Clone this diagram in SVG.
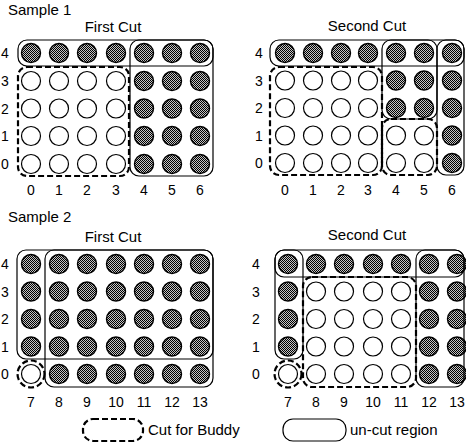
<svg xmlns="http://www.w3.org/2000/svg" width="466" height="443" viewBox="0 0 466 443">
<defs>
<pattern id="dots" patternUnits="userSpaceOnUse" width="2" height="2">
<rect width="2" height="2" fill="#c4c4c4"/>
<rect x="0" y="0" width="1" height="1" fill="#000"/>
<rect x="1" y="1" width="1" height="1" fill="#000"/>
</pattern>
</defs>
<style>
text{font-family:"Liberation Sans",Arial,sans-serif;font-size:15px;fill:#000}
.lab{text-anchor:middle;font-size:14px}
.ttl{text-anchor:middle}
.f{fill:url(#dots);stroke:#000;stroke-width:1.4}
.e{fill:#fff;stroke:#000;stroke-width:1.2}
.box{fill:none;stroke:#000;stroke-width:1.2}
.cut{fill:none;stroke:#000;stroke-width:2.2;stroke-dasharray:6 3}
</style>
<rect width="466" height="443" fill="#fff"/>

<text x="8" y="15">Sample 1</text>
<text x="8" y="222">Sample 2</text>

<g id="s1-first">
<text class="ttl" x="113" y="32">First Cut</text>
<g class="rows">
<text class="lab" x="5" y="58">4</text><text class="lab" x="5" y="86">3</text><text class="lab" x="5" y="114">2</text><text class="lab" x="5" y="141">1</text><text class="lab" x="5" y="169">0</text>
</g>
<g class="cols">
<text class="lab" x="31" y="195">0</text><text class="lab" x="59" y="195">1</text><text class="lab" x="87" y="195">2</text><text class="lab" x="116" y="195">3</text><text class="lab" x="144" y="195">4</text><text class="lab" x="172" y="195">5</text><text class="lab" x="200" y="195">6</text>
</g>
<g>
<circle class="f" cx="31" cy="53" r="9.5"/><circle class="f" cx="59" cy="53" r="9.5"/><circle class="f" cx="87" cy="53" r="9.5"/><circle class="f" cx="116" cy="53" r="9.5"/><circle class="f" cx="144" cy="53" r="9.5"/><circle class="f" cx="172" cy="53" r="9.5"/><circle class="f" cx="200" cy="53" r="9.5"/>
<circle class="e" cx="31" cy="81" r="9.5"/><circle class="e" cx="59" cy="81" r="9.5"/><circle class="e" cx="87" cy="81" r="9.5"/><circle class="e" cx="116" cy="81" r="9.5"/><circle class="f" cx="144" cy="81" r="9.5"/><circle class="f" cx="172" cy="81" r="9.5"/><circle class="f" cx="200" cy="81" r="9.5"/>
<circle class="e" cx="31" cy="108.5" r="9.5"/><circle class="e" cx="59" cy="108.5" r="9.5"/><circle class="e" cx="87" cy="108.5" r="9.5"/><circle class="e" cx="116" cy="108.5" r="9.5"/><circle class="f" cx="144" cy="108.5" r="9.5"/><circle class="f" cx="172" cy="108.5" r="9.5"/><circle class="f" cx="200" cy="108.5" r="9.5"/>
<circle class="e" cx="31" cy="136" r="9.5"/><circle class="e" cx="59" cy="136" r="9.5"/><circle class="e" cx="87" cy="136" r="9.5"/><circle class="e" cx="116" cy="136" r="9.5"/><circle class="f" cx="144" cy="136" r="9.5"/><circle class="f" cx="172" cy="136" r="9.5"/><circle class="f" cx="200" cy="136" r="9.5"/>
<circle class="e" cx="31" cy="164" r="9.5"/><circle class="e" cx="59" cy="164" r="9.5"/><circle class="e" cx="87" cy="164" r="9.5"/><circle class="e" cx="116" cy="164" r="9.5"/><circle class="f" cx="144" cy="164" r="9.5"/><circle class="f" cx="172" cy="164" r="9.5"/><circle class="f" cx="200" cy="164" r="9.5"/>
</g>
<rect class="box" x="18" y="40" width="195" height="26" rx="9"/>
<rect class="box" x="130" y="40" width="83" height="136" rx="9"/>
<rect class="cut" x="18" y="67" width="111" height="109" rx="9"/>
</g>

<g id="s1-second">
<text class="ttl" x="367" y="31">Second Cut</text>
<g class="rows">
<text class="lab" x="259" y="58">4</text><text class="lab" x="259" y="86">3</text><text class="lab" x="259" y="113">2</text><text class="lab" x="259" y="141">1</text><text class="lab" x="259" y="168">0</text>
</g>
<g class="cols">
<text class="lab" x="285" y="195">0</text><text class="lab" x="313" y="195">1</text><text class="lab" x="341" y="195">2</text><text class="lab" x="368" y="195">3</text><text class="lab" x="396" y="195">4</text><text class="lab" x="424" y="195">5</text><text class="lab" x="452" y="195">6</text>
</g>
<g>
<circle class="f" cx="285" cy="53" r="9.5"/><circle class="f" cx="313" cy="53" r="9.5"/><circle class="f" cx="341" cy="53" r="9.5"/><circle class="f" cx="368" cy="53" r="9.5"/><circle class="f" cx="396" cy="53" r="9.5"/><circle class="f" cx="424" cy="53" r="9.5"/><circle class="f" cx="452" cy="53" r="9.5"/>
<circle class="e" cx="285" cy="80.5" r="9.5"/><circle class="e" cx="313" cy="80.5" r="9.5"/><circle class="e" cx="341" cy="80.5" r="9.5"/><circle class="e" cx="368" cy="80.5" r="9.5"/><circle class="f" cx="396" cy="80.5" r="9.5"/><circle class="f" cx="424" cy="80.5" r="9.5"/><circle class="f" cx="452" cy="80.5" r="9.5"/>
<circle class="e" cx="285" cy="108" r="9.5"/><circle class="e" cx="313" cy="108" r="9.5"/><circle class="e" cx="341" cy="108" r="9.5"/><circle class="e" cx="368" cy="108" r="9.5"/><circle class="f" cx="396" cy="108" r="9.5"/><circle class="f" cx="424" cy="108" r="9.5"/><circle class="f" cx="452" cy="108" r="9.5"/>
<circle class="e" cx="285" cy="135.5" r="9.5"/><circle class="e" cx="313" cy="135.5" r="9.5"/><circle class="e" cx="341" cy="135.5" r="9.5"/><circle class="e" cx="368" cy="135.5" r="9.5"/><circle class="e" cx="396" cy="135.5" r="9.5"/><circle class="e" cx="424" cy="135.5" r="9.5"/><circle class="f" cx="452" cy="135.5" r="9.5"/>
<circle class="e" cx="285" cy="163" r="9.5"/><circle class="e" cx="313" cy="163" r="9.5"/><circle class="e" cx="341" cy="163" r="9.5"/><circle class="e" cx="368" cy="163" r="9.5"/><circle class="e" cx="396" cy="163" r="9.5"/><circle class="e" cx="424" cy="163" r="9.5"/><circle class="f" cx="452" cy="163" r="9.5"/>
</g>
<rect class="box" x="270" y="40" width="194" height="26" rx="9"/>
<rect class="box" x="382" y="40" width="55" height="79" rx="9"/>
<rect class="box" x="437" y="40" width="27" height="135" rx="9"/>
<rect class="cut" x="270" y="67" width="112" height="108" rx="9"/>
<rect class="cut" x="382" y="119" width="55" height="56" rx="9"/>
</g>

<g id="s2-first">
<text class="ttl" x="113" y="242">First Cut</text>
<g class="rows">
<text class="lab" x="5" y="269">4</text><text class="lab" x="5" y="297">3</text><text class="lab" x="5" y="324">2</text><text class="lab" x="5" y="352">1</text><text class="lab" x="5" y="379">0</text>
</g>
<g class="cols">
<text class="lab" x="31" y="407">7</text><text class="lab" x="59" y="407">8</text><text class="lab" x="87" y="407">9</text><text class="lab" x="116" y="407">10</text><text class="lab" x="144" y="407">11</text><text class="lab" x="172" y="407">12</text><text class="lab" x="200" y="407">13</text>
</g>
<g>
<circle class="f" cx="31" cy="264" r="9.5"/><circle class="f" cx="59" cy="264" r="9.5"/><circle class="f" cx="87" cy="264" r="9.5"/><circle class="f" cx="116" cy="264" r="9.5"/><circle class="f" cx="144" cy="264" r="9.5"/><circle class="f" cx="172" cy="264" r="9.5"/><circle class="f" cx="200" cy="264" r="9.5"/>
<circle class="f" cx="31" cy="291.5" r="9.5"/><circle class="f" cx="59" cy="291.5" r="9.5"/><circle class="f" cx="87" cy="291.5" r="9.5"/><circle class="f" cx="116" cy="291.5" r="9.5"/><circle class="f" cx="144" cy="291.5" r="9.5"/><circle class="f" cx="172" cy="291.5" r="9.5"/><circle class="f" cx="200" cy="291.5" r="9.5"/>
<circle class="f" cx="31" cy="319" r="9.5"/><circle class="f" cx="59" cy="319" r="9.5"/><circle class="f" cx="87" cy="319" r="9.5"/><circle class="f" cx="116" cy="319" r="9.5"/><circle class="f" cx="144" cy="319" r="9.5"/><circle class="f" cx="172" cy="319" r="9.5"/><circle class="f" cx="200" cy="319" r="9.5"/>
<circle class="f" cx="31" cy="346.5" r="9.5"/><circle class="f" cx="59" cy="346.5" r="9.5"/><circle class="f" cx="87" cy="346.5" r="9.5"/><circle class="f" cx="116" cy="346.5" r="9.5"/><circle class="f" cx="144" cy="346.5" r="9.5"/><circle class="f" cx="172" cy="346.5" r="9.5"/><circle class="f" cx="200" cy="346.5" r="9.5"/>
<circle class="e" cx="31" cy="374" r="9.5"/><circle class="f" cx="59" cy="374" r="9.5"/><circle class="f" cx="87" cy="374" r="9.5"/><circle class="f" cx="116" cy="374" r="9.5"/><circle class="f" cx="144" cy="374" r="9.5"/><circle class="f" cx="172" cy="374" r="9.5"/><circle class="f" cx="200" cy="374" r="9.5"/>
</g>
<rect class="box" x="17" y="250" width="196" height="109" rx="9"/>
<rect class="box" x="45" y="250" width="168" height="137" rx="9"/>
<circle class="cut" cx="31" cy="374" r="13.5"/>
</g>

<g id="s2-second">
<text class="ttl" x="367" y="240">Second Cut</text>
<g class="rows">
<text class="lab" x="256" y="269">4</text><text class="lab" x="256" y="297">3</text><text class="lab" x="256" y="324">2</text><text class="lab" x="256" y="352">1</text><text class="lab" x="256" y="379">0</text>
</g>
<g class="cols">
<text class="lab" x="288" y="407">7</text><text class="lab" x="316" y="407">8</text><text class="lab" x="344" y="407">9</text><text class="lab" x="373" y="407">10</text><text class="lab" x="401" y="407">11</text><text class="lab" x="429" y="407">12</text><text class="lab" x="457" y="407">13</text>
</g>
<g>
<circle class="f" cx="288" cy="264" r="9.5"/><circle class="f" cx="316" cy="264" r="9.5"/><circle class="f" cx="344" cy="264" r="9.5"/><circle class="f" cx="373" cy="264" r="9.5"/><circle class="f" cx="401" cy="264" r="9.5"/><circle class="f" cx="429" cy="264" r="9.5"/><circle class="f" cx="457" cy="264" r="9.5"/>
<circle class="f" cx="288" cy="291.5" r="9.5"/><circle class="e" cx="316" cy="291.5" r="9.5"/><circle class="e" cx="344" cy="291.5" r="9.5"/><circle class="e" cx="373" cy="291.5" r="9.5"/><circle class="e" cx="401" cy="291.5" r="9.5"/><circle class="f" cx="429" cy="291.5" r="9.5"/><circle class="f" cx="457" cy="291.5" r="9.5"/>
<circle class="f" cx="288" cy="319" r="9.5"/><circle class="e" cx="316" cy="319" r="9.5"/><circle class="e" cx="344" cy="319" r="9.5"/><circle class="e" cx="373" cy="319" r="9.5"/><circle class="e" cx="401" cy="319" r="9.5"/><circle class="f" cx="429" cy="319" r="9.5"/><circle class="f" cx="457" cy="319" r="9.5"/>
<circle class="f" cx="288" cy="346.5" r="9.5"/><circle class="e" cx="316" cy="346.5" r="9.5"/><circle class="e" cx="344" cy="346.5" r="9.5"/><circle class="e" cx="373" cy="346.5" r="9.5"/><circle class="e" cx="401" cy="346.5" r="9.5"/><circle class="f" cx="429" cy="346.5" r="9.5"/><circle class="f" cx="457" cy="346.5" r="9.5"/>
<circle class="e" cx="288" cy="374" r="9.5"/><circle class="e" cx="316" cy="374" r="9.5"/><circle class="e" cx="344" cy="374" r="9.5"/><circle class="e" cx="373" cy="374" r="9.5"/><circle class="e" cx="401" cy="374" r="9.5"/><circle class="f" cx="429" cy="374" r="9.5"/><circle class="f" cx="457" cy="374" r="9.5"/>
</g>
<rect class="box" x="275" y="250" width="28" height="109" rx="9"/>
<rect class="box" x="275" y="250" width="189" height="27" rx="9"/>
<rect class="box" x="416" y="250" width="48" height="137" rx="9"/>
<rect class="cut" x="303" y="277" width="113" height="110" rx="9"/>
<circle class="cut" cx="288" cy="374" r="13.5"/>
</g>

<g id="legend">
<rect class="cut" x="83" y="419" width="60" height="22" rx="10"/>
<text x="148" y="435">Cut for Buddy</text>
<rect class="box" x="283" y="419" width="63" height="22" rx="10"/>
<text x="350" y="435">un-cut region</text>
</g>
</svg>
